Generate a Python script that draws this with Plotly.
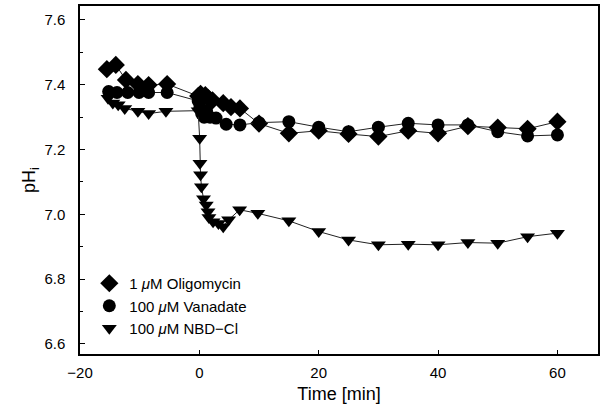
import plotly.graph_objects as go

# ---- data ----
olig_t = [-15.5, -14, -12.3, -10.3, -8.5, -5.4, -0.2, 0.2, 0.6, 1.0, 1.5, 2.2, 4.0, 5.3, 6.8, 10,
          15, 20, 25, 30, 35, 40, 45, 50, 55, 60]
olig_ph = [7.448, 7.461, 7.415, 7.402, 7.399, 7.402, 7.365, 7.372, 7.360, 7.368, 7.358, 7.352, 7.343, 7.331, 7.327, 7.280,
           7.250, 7.258, 7.248, 7.240, 7.258, 7.250, 7.272, 7.268, 7.264, 7.286]

vana_t = [-15.2, -13.8, -12.0, -10.1, -8.5, -5.4, -0.2, 0.1, 0.4, 0.8, 1.2, 1.8, 2.8, 4.5, 6.8, 10,
          15, 20, 25, 30, 35, 40, 45, 50, 55, 60]
vana_ph = [7.379, 7.376, 7.376, 7.376, 7.376, 7.376, 7.350, 7.330, 7.310, 7.300, 7.320, 7.300, 7.297, 7.278, 7.276, 7.283,
           7.286, 7.269, 7.255, 7.269, 7.281, 7.276, 7.276, 7.255, 7.242, 7.245]

nbd_t = [-15.3, -14.5, -13.6, -12.5, -10.3, -8.5, -5.6, -0.2, 0.05, 0.1, 0.2, 0.35, 0.7, 1.15, 1.45, 1.6,
         2.3, 3.2, 4.0, 4.9, 6.75, 9.8, 15, 20, 25, 30, 35, 40, 45, 50, 55, 60]
nbd_ph = [7.358, 7.344, 7.338, 7.327, 7.318, 7.311, 7.318, 7.320, 7.235, 7.158, 7.122, 7.085, 7.048, 7.029, 7.008, 6.990,
          6.977, 6.972, 6.962, 6.983, 7.014, 7.003, 6.980, 6.947, 6.921, 6.906, 6.908, 6.906, 6.913, 6.911, 6.931, 6.942]

names = ["1 <i>μ</i>M Oligomycin", "100 <i>μ</i>M Vanadate", "100 <i>μ</i>M NBD\u2212Cl"]
symbols = ["diamond", "circle", "triangle-down"]
sizes = [14, 13, 13]
x_ticks = [-20, 0, 20, 40, 60]
y_ticks = [6.6, 6.8, 7.0, 7.2, 7.4, 7.6]

FONT = "Liberation Sans, Arial, sans-serif"
LINE = dict(color="#222222", width=1)

fig = go.Figure()
series = [(olig_t, olig_ph), (vana_t, vana_ph), (nbd_t, nbd_ph)]
for (t, ph), nm, sym, sz in zip(series, names, symbols, sizes):
    fig.add_trace(go.Scatter(x=t, y=ph, name=nm, mode="lines+markers", showlegend=False,
                             line=LINE, marker=dict(symbol=sym, size=sz, color="black")))
# legend entries show the marker only, as in the reference
for nm, sym, sz in zip(names, symbols, sizes):
    fig.add_trace(go.Scatter(x=[None], y=[None], name=nm, mode="markers",
                             marker=dict(symbol=sym, size=sz, color="black")))

axis_common = dict(showline=True, linecolor="black", linewidth=1.5, mirror=True,
                   ticks="inside", tickcolor="black", showgrid=False, zeroline=False,
                   tickfont=dict(family=FONT, size=15, color="black"))

fig.update_layout(
    width=602, height=413,
    margin=dict(l=80, r=2, t=6, b=59),
    paper_bgcolor="white", plot_bgcolor="white",
    font=dict(family=FONT, color="black"),
    xaxis=dict(range=[-20, 66.8], tickvals=x_ticks, ticklen=4, tickwidth=1,
               ticklabelstandoff=4,
               title=dict(text="Time [min]", font=dict(family=FONT, size=18), standoff=8),
               **axis_common),
    yaxis=dict(range=[6.569, 7.643], tickvals=y_ticks, tickformat=".1f", ticklen=5, tickwidth=1,
               ticklabelstandoff=10,
               minor=dict(dtick=0.1, ticks="inside", ticklen=3, tickcolor="black"),
               title=dict(text="pH<sub>i</sub>", font=dict(family=FONT, size=18), standoff=4),
               **axis_common),
    showlegend=True,
    legend=dict(x=0.018, y=0.25, xanchor="left", yanchor="top", bgcolor="rgba(0,0,0,0)",
                font=dict(family=FONT, size=15, color="black"), tracegroupgap=0),
)

fig.write_html("out.html")
